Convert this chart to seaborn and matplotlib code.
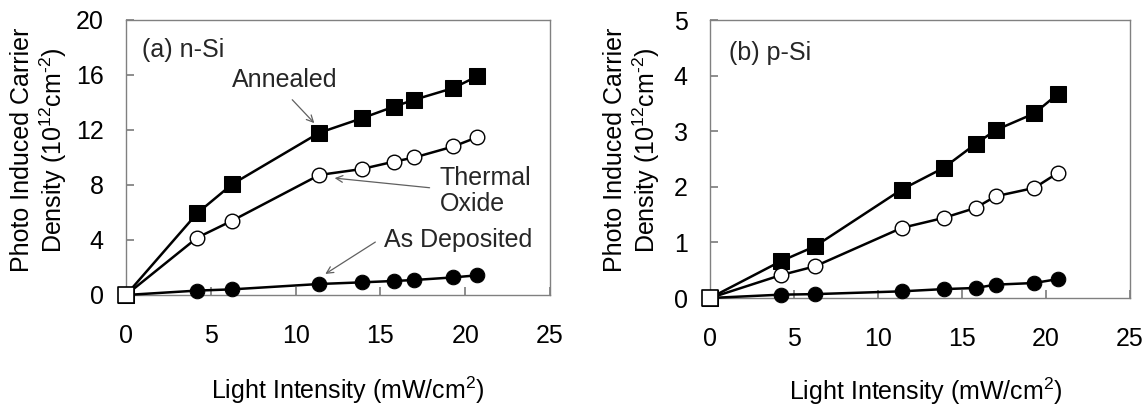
import matplotlib
matplotlib.use("Agg")
import matplotlib.pyplot as plt
import seaborn as sns
import pandas as pd

sns.set_theme(style="white")
plt.rcParams['font.family'] = ['Liberation Sans', 'DejaVu Sans']
plt.rcParams['mathtext.fontset'] = 'custom'
plt.rcParams['mathtext.rm'] = 'Liberation Sans'
plt.rcParams['mathtext.it'] = 'Liberation Sans'
plt.rcParams['mathtext.default'] = 'regular'

intensity = [0, 4.2, 6.25, 11.4, 13.9, 15.8, 17.0, 19.3, 20.7]

n_annealed = [0, 5.95, 8.05, 11.8, 12.85, 13.7, 14.2, 15.05, 15.9]
n_thermal = [0, 4.17, 5.4, 8.73, 9.16, 9.7, 10.0, 10.8, 11.47]
n_asdep = [0, 0.32, 0.41, 0.8, 0.92, 1.02, 1.09, 1.28, 1.43]

p_annealed = [0, 0.66, 0.93, 1.95, 2.34, 2.77, 3.02, 3.32, 3.67]
p_thermal = [0, 0.41, 0.57, 1.26, 1.44, 1.62, 1.83, 1.98, 2.25]
p_asdep = [0, 0.06, 0.07, 0.12, 0.16, 0.18, 0.24, 0.27, 0.34]

ylabel = "Photo Induced Carrier\nDensity (10$^{12}$cm$^{\\text{-}2}$)"
xlabel = "Light Intensity (mW/cm$^{2}$)"

fig = plt.figure(figsize=(11.48, 4.07), dpi=100)
axL = fig.add_axes([0.1098, 0.2752, 0.3693, 0.6757])
axR = fig.add_axes([0.6185, 0.2678, 0.3659, 0.683])

FS = 18
spine_col = '#808080'


def draw(ax, ann, asd, th, ymax, ystep):
    df = pd.DataFrame({'x': intensity, 'ann': ann, 'asd': asd, 'th': th})
    sns.lineplot(data=df, x='x', y='ann', ax=ax, color='black', lw=1.8,
                 marker='s', markersize=11, markerfacecolor='black',
                 markeredgecolor='black', zorder=3, clip_on=False)
    sns.lineplot(data=df, x='x', y='asd', ax=ax, color='black', lw=1.8,
                 marker='o', markersize=10.5, markerfacecolor='black',
                 markeredgecolor='black', zorder=4, clip_on=False)
    sns.lineplot(data=df, x='x', y='th', ax=ax, color='black', lw=1.8,
                 marker='o', markersize=10.5, markerfacecolor='white',
                 markeredgecolor='black', markeredgewidth=1.0, zorder=5,
                 clip_on=False)
    # origin point drawn as an open square, as in the original figure
    sns.scatterplot(x=[intensity[0]], y=[ann[0]], ax=ax, marker='s', s=130,
                    facecolor='white', edgecolor='black', linewidth=1.2,
                    zorder=6, clip_on=False)
    ax.set_xlim(0, 25)
    ax.set_ylim(0, ymax)
    ax.set_xticks([0, 5, 10, 15, 20, 25])
    ax.set_yticks([ystep * i for i in range(int(round(ymax / ystep)) + 1)])
    for s in ax.spines.values():
        s.set_color(spine_col)
        s.set_linewidth(1.0)
        s.set_visible(True)
        s.set_zorder(1)
    ax.tick_params(axis='x', direction='in', length=6, color=spine_col,
                   labelsize=FS, pad=21, bottom=True)
    ax.tick_params(axis='y', direction='in', length=6, color=spine_col,
                   labelsize=FS, pad=16, left=True)
    for lab in ax.get_xticklabels() + ax.get_yticklabels():
        lab.set_color('black')
    ax.set_xlabel(xlabel, fontsize=FS, color='black')
    ax.set_ylabel(ylabel, fontsize=FS, color='black', linespacing=1.15)
    ax.grid(False)
    ax.set_facecolor('white')


draw(axL, n_annealed, n_asdep, n_thermal, 20, 4)
draw(axR, p_annealed, p_asdep, p_thermal, 5, 1)

axL.xaxis.set_label_coords(0.524, -0.29)
axR.xaxis.set_label_coords(0.514, -0.28)
axL.yaxis.set_label_coords(-0.135, 0.527)
axR.yaxis.set_label_coords(-0.114, 0.532)

axL.text(0.97, 17.8, "(a) n-Si", fontsize=FS, va='center', ha='left')
axR.text(1.13, 4.4, "(b) p-Si", fontsize=FS, va='center', ha='left')

arrow = dict(arrowstyle='->', color='#606060', lw=0.9, shrinkA=0, shrinkB=0)
axL.text(6.27, 15.6, "Annealed", fontsize=FS, va='center', ha='left')
axL.annotate('', xy=(11.1, 12.5), xytext=(9.8, 14.2), arrowprops=arrow)
axL.text(18.5, 7.56, "Thermal\nOxide", fontsize=FS, va='center', ha='left',
         linespacing=1.15)
axL.annotate('', xy=(12.3, 8.5), xytext=(17.9, 7.8), arrowprops=arrow)
axL.text(15.2, 4.0, "As Deposited", fontsize=FS, va='center', ha='left')
axL.annotate('', xy=(11.75, 1.53), xytext=(14.7, 3.85), arrowprops=arrow)

fig.savefig("out.png", dpi=100, facecolor='white')
